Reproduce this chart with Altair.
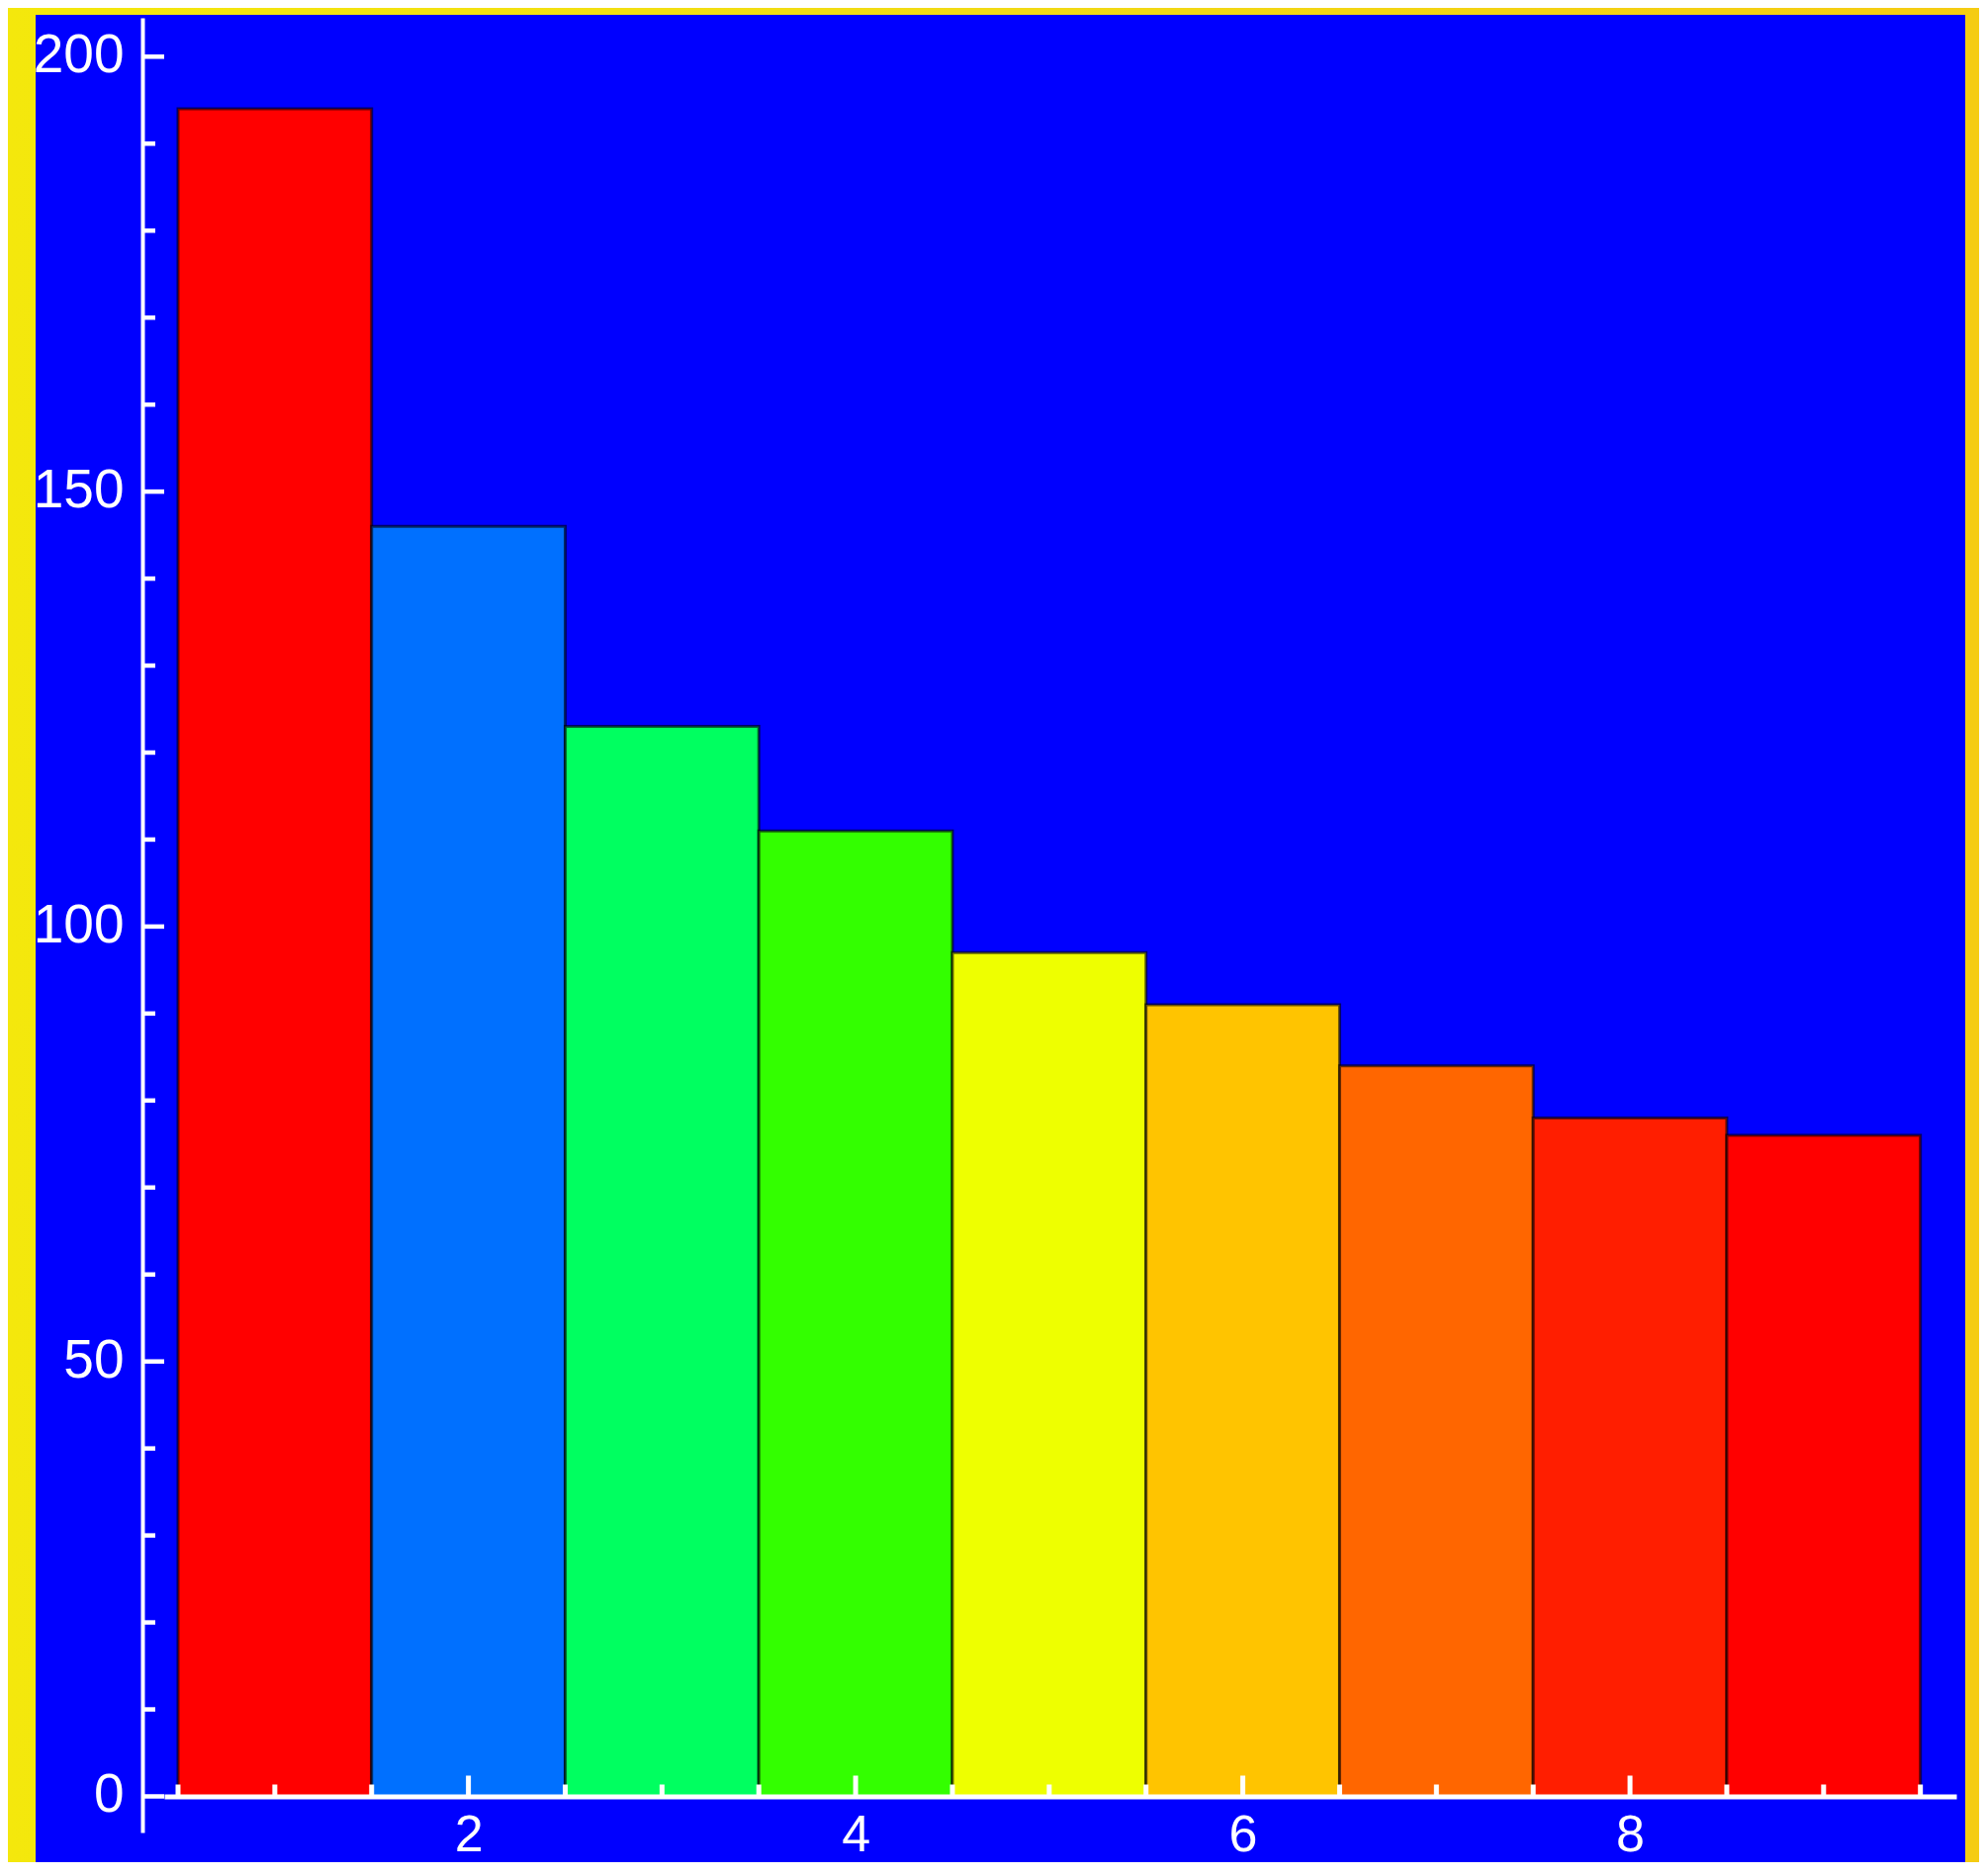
import altair as alt
import pandas as pd

# ---- data ----
categories = [1, 2, 3, 4, 5, 6, 7, 8, 9]
values = [194, 146, 123, 111, 97, 91, 84, 78, 76]
bar_colors = ["#FF0000", "#0070FF", "#00FF60", "#33FF00", "#EEFF00",
              "#FFC400", "#FF6600", "#FF1E00", "#FF0000"]

y_label_values = [0, 50, 100, 150, 200]
x_label_values = [2, 4, 6, 8]
y_major_ticks = [0, 50, 100, 150, 200]
y_minor_ticks = [10, 20, 30, 40, 60, 70, 80, 90, 110, 120, 130, 140,
                 160, 170, 180, 190]
x_major_ticks = [2, 4, 6, 8]
x_minor_ticks = [0.5, 1, 1.5, 2.5, 3, 3.5, 4.5, 5, 5.5, 6.5, 7, 7.5,
                 8.5, 9, 9.5]

# ---- layout ----
W, H = 1812, 1835
PAD = {"left": 158, "top": 10, "right": 23, "bottom": 30}
FONT = "Liberation Sans"

bars = pd.DataFrame({"x": categories, "value": values})

x_scale = alt.Scale(domain=[0.4285, 9.6856], nice=False, zero=False)
y_scale = alt.Scale(domain=[-4.15, 204.47], nice=False, zero=False)

x_axis = alt.Axis(orient="bottom", offset=-36.5, values=x_label_values,
                  ticks=False, grid=False, domainColor="white",
                  domainWidth=5, labelColor="white", labelFontSize=52,
                  labelFont=FONT, labelPadding=14, title=None,
                  zindex=1, labelFlush=False, labelOverlap=False,
                  format="d")
y_axis = alt.Axis(orient="left", offset=22, values=y_label_values,
                  ticks=False, grid=False, domainColor="white",
                  domainWidth=4, labelColor="white", labelFontSize=55,
                  labelFont=FONT, labelPadding=19, labelOffset=-1.5,
                  title=None, zindex=1, labelFlush=False,
                  labelOverlap=False, format="d")

one = alt.Data(values=[{}])

frame = alt.Chart(one).mark_rect(
    fill=alt.Gradient(
        gradient="linear", x1=0, x2=1, y1=0, y2=0,
        stops=[alt.GradientStop(offset=0, color="#F4E80C"),
               alt.GradientStop(offset=0.5, color="#F1DA14"),
               alt.GradientStop(offset=1, color="#F5CC12")],
    )
).encode(
    x=alt.value(-PAD["left"]), x2=alt.value(W + PAD["right"]),
    y=alt.value(-PAD["top"]), y2=alt.value(H + PAD["bottom"]),
)

blue = alt.Chart(one).mark_rect(fill="#0000FF").encode(
    x=alt.value(-130), x2=alt.value(1821),
    y=alt.value(-3), y2=alt.value(H + PAD["bottom"]),
)

bar_layer = alt.Chart(bars).transform_calculate(
    x0="datum.x - 0.5", x1="datum.x + 0.5"
).mark_rect(stroke="black", strokeOpacity=0.6, strokeWidth=3).encode(
    x=alt.X("x0:Q", scale=x_scale, axis=x_axis),
    x2="x1:Q",
    y=alt.Y("value:Q", scale=y_scale, axis=y_axis),
    y2=alt.Y2Datum(0),
    color=alt.Color("x:N", scale=alt.Scale(domain=categories, range=bar_colors),
                    legend=None),
)


def xticks(vals, length):
    df = pd.DataFrame({"t": vals})
    return alt.Chart(df).mark_rule(color="white", strokeWidth=5,
                                   y2Offset=-length).encode(
        x=alt.X("t:Q", scale=x_scale, axis=x_axis),
        y=alt.YDatum(0, scale=y_scale, axis=y_axis),
        y2=alt.Y2Datum(0),
    )


def yticks(vals, end):
    df = pd.DataFrame({"t": vals})
    return alt.Chart(df).mark_rule(color="white", strokeWidth=4.5).encode(
        y=alt.Y("t:Q", scale=y_scale, axis=y_axis),
        x=alt.value(-22), x2=alt.value(end),
    )


chart = alt.layer(
    frame, blue, bar_layer,
    xticks(x_minor_ticks, 12), xticks(x_major_ticks, 21),
    yticks(y_minor_ticks, -9), yticks(y_major_ticks, 0),
).properties(
    width=W, height=H, padding=PAD, autosize="none", background="#F2D814",
).configure_view(stroke=None)

chart.save("out.html", embed_options={"renderer": "svg", "actions": False})
